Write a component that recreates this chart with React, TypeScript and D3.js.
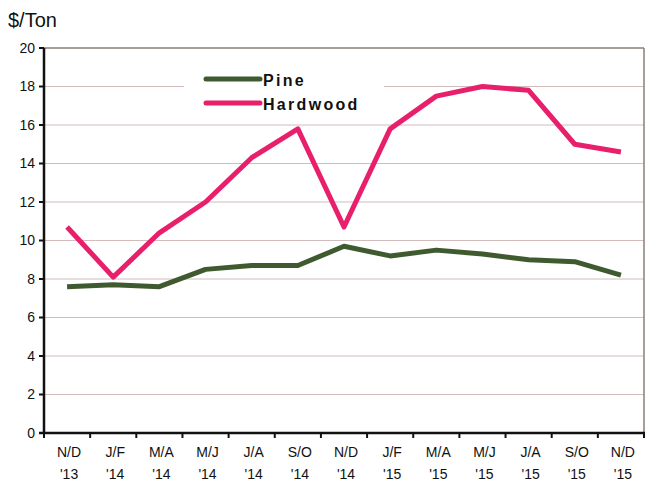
import React from 'react';
import * as d3 from 'd3';

const periods = ['N/D', 'J/F', 'M/A', 'M/J', 'J/A', 'S/O', 'N/D', 'J/F', 'M/A', 'M/J', 'J/A', 'S/O', 'N/D'];
const years = ["'13", "'14", "'14", "'14", "'14", "'14", "'14", "'15", "'15", "'15", "'15", "'15", "'15"];
const pine = [7.6, 7.7, 7.6, 8.5, 8.7, 8.7, 9.7, 9.2, 9.5, 9.3, 9.0, 8.9, 8.2];
const hardwood = [10.7, 8.1, 10.4, 12.0, 14.3, 15.8, 10.7, 15.8, 17.5, 18.0, 17.8, 15.0, 14.6];
const yTicks = [0, 2, 4, 6, 8, 10, 12, 14, 16, 18, 20];

const W = 652;
const H = 484;
const left = 44, right = 644, top = 48, bottom = 433;
const pineColor = '#405a30';
const hardColor = '#e8206c';
const font = 'Arial, "Liberation Sans", sans-serif';

export default function App() {
  const idx = periods.map((_, i) => i);
  const x = d3.scaleBand<number>().domain(idx).range([left, right]);
  const y = d3.scaleLinear().domain([0, 20]).range([bottom, top]);
  const cx = (i: number) => (x(i) as number) + x.bandwidth() / 2;
  const line = d3.line<number>().x((_, i) => cx(i)).y(d => y(d));
  const bounds = idx.map(i => x(i) as number).concat([right]);

  return (
    <div style={{ position: 'fixed', left: 0, top: 0, width: W, height: H, background: '#fff' }}>
      <svg width={W} height={H} style={{ display: 'block', fontFamily: font }}>
        <rect width={W} height={H} fill="#fff" />
        <text x={8} y={27} fontSize={20} fill="#111">$/Ton</text>
        {yTicks.map(t => (
          <g key={t}>
            <line x1={left} x2={right} y1={y(t)} y2={y(t)}
              stroke={t === 20 ? '#8c7d74' : '#d2bcbc'} strokeWidth={t === 20 ? 1.5 : 1} />
            <line x1={left - 5} x2={left} y1={y(t)} y2={y(t)} stroke="#111" strokeWidth={2} />
            <text x={35} y={y(t)} dy="0.35em" textAnchor="end" fontSize={14} fill="#111">{t}</text>
          </g>
        ))}
        <line x1={right} x2={right} y1={top} y2={bottom} stroke="#8c7d74" strokeWidth={1.5} />
        <rect x={184} y={68} width={200} height={48} fill="#fff" />
        <path d={line(pine) || ''} fill="none" stroke={pineColor} strokeWidth={5} strokeLinejoin="round" />
        <path d={line(hardwood) || ''} fill="none" stroke={hardColor} strokeWidth={5} strokeLinejoin="round" />
        <line x1={left} x2={left} y1={top} y2={bottom + 1} stroke="#111" strokeWidth={2.5} />
        <line x1={left - 5} x2={right + 1} y1={bottom} y2={bottom} stroke="#111" strokeWidth={2.5} />
        {bounds.map((b, i) => (
          <line key={i} x1={b} x2={b} y1={bottom} y2={bottom + 5} stroke="#111" strokeWidth={2} />
        ))}
        {idx.map(i => (
          <g key={i} fontSize={14} fill="#111" textAnchor="middle">
            <text x={cx(i) + 2} y={457}>{periods[i]}</text>
            <text x={cx(i) + 2} y={479}>{years[i]}</text>
          </g>
        ))}
        <g fontSize={16} fontWeight="bold" fill="#111" letterSpacing={2.3}>
          <line x1={206} x2={260} y1={79} y2={79} stroke={pineColor} strokeWidth={5} strokeLinecap="round" />
          <text x={263} y={80} dy="0.35em">Pine</text>
          <line x1={206} x2={260} y1={103} y2={103} stroke={hardColor} strokeWidth={5} strokeLinecap="round" />
          <text x={263} y={104} dy="0.35em">Hardwood</text>
        </g>
      </svg>
    </div>
  );
}
